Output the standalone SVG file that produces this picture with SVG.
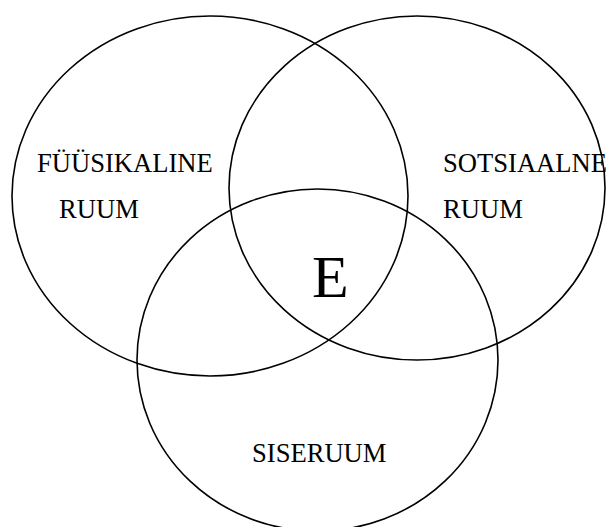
<svg xmlns="http://www.w3.org/2000/svg" width="607" height="527" viewBox="0 0 607 527">
  <style>
    .ring { fill: none; stroke: #000; stroke-width: 1.6; }
    .lbl { font-family: "Liberation Serif", "Times New Roman", serif; font-size: 26.6px; fill: #000; }
    .big { font-family: "Liberation Serif", "Times New Roman", serif; font-size: 60px; fill: #000; }
  </style>
  <rect width="607" height="527" fill="#fff"/>
  <g id="fyysikaline">
    <ellipse class="ring" cx="210" cy="196" rx="198" ry="180"/>
    <text class="lbl" x="37" y="172">FÜÜSIKALINE</text>
    <text class="lbl" x="59" y="218">RUUM</text>
  </g>
  <g id="sotsiaalne">
    <ellipse class="ring" cx="417" cy="188" rx="188" ry="172"/>
    <text class="lbl" x="443" y="172">SOTSIAALNE</text>
    <text class="lbl" x="443" y="218">RUUM</text>
  </g>
  <g id="siseruum">
    <ellipse class="ring" cx="317.5" cy="360" rx="180.5" ry="171"/>
    <text class="lbl" x="252" y="462">SISERUUM</text>
  </g>
  <g id="keskus">
    <text class="big" x="312" y="297">E</text>
  </g>
  <g id="connectors"/>
</svg>
